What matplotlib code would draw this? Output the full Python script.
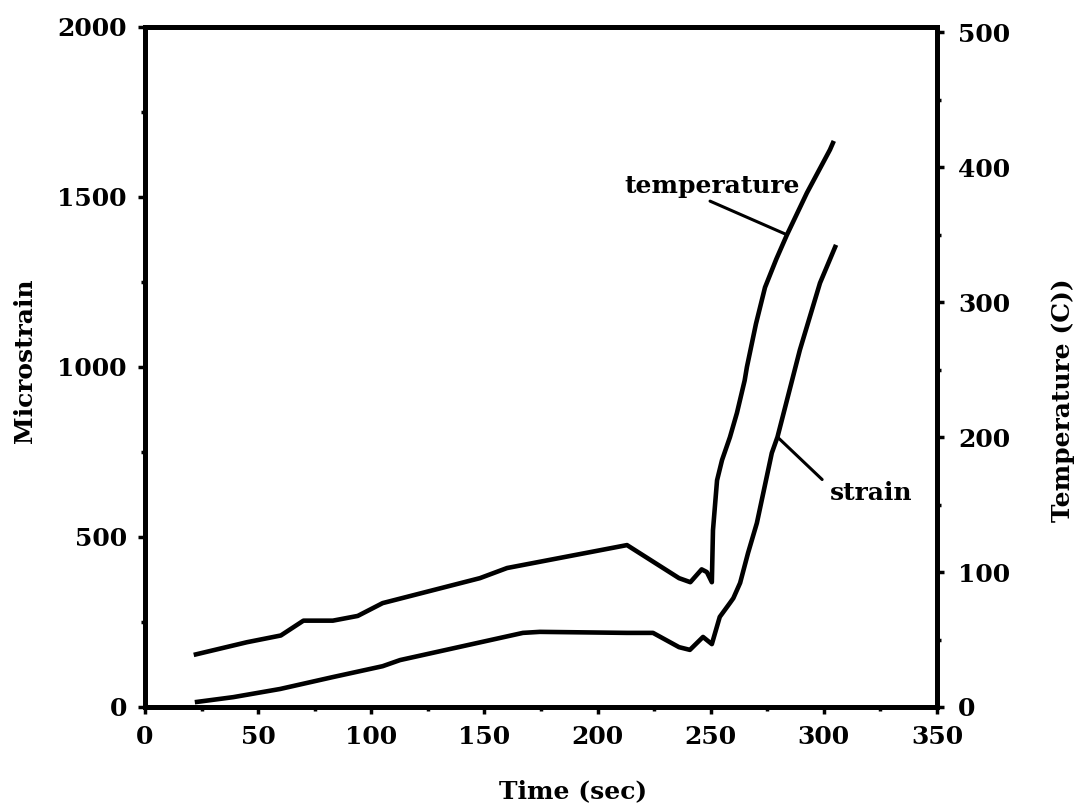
import matplotlib
matplotlib.use("Agg")
import matplotlib.pyplot as plt
from matplotlib.ticker import MultipleLocator

# strain curve (left axis, microstrain)
strain_time = [23, 39, 59.7, 83, 105, 112.7, 167, 174.5, 213, 224.5, 236, 240.8,
               246.6, 250.5, 254, 258.5, 260, 263, 266.5, 270.4, 277, 279.5,
               286, 289.4, 298.3, 305]
strain = [15, 29, 53, 88, 120, 138, 218, 221, 218, 218, 176, 168,
          206, 185, 265, 306, 320, 365, 453, 541, 747, 794,
          962, 1050, 1247, 1353]

# temperature curve (right axis, C)
temp_time = [22.5, 45, 60, 70, 83, 94, 105, 148, 160, 213, 236, 241, 246, 248.3,
             250.5, 251, 252.8, 255, 258.5, 261.6, 265, 266, 270, 274, 279,
             283.7, 292.5, 302.7, 304]
temp = [39, 48, 53, 64, 64, 67.5, 77, 95.5, 103, 120, 95.5, 92.5, 102, 100,
        92.5, 131, 168, 183, 200, 218, 242, 252, 284, 311, 332,
        350, 381, 413, 418]

plt.rcParams['font.family'] = ['DejaVu Serif']
plt.rcParams['font.weight'] = 'bold'
plt.rcParams['axes.labelweight'] = 'bold'

fig = plt.figure(figsize=(10.76, 8.08), dpi=100)
ax = fig.add_axes([0.1348, 0.125, 0.736, 0.8416])
ax2 = ax.twinx()

ax.plot(strain_time, strain, color='black', lw=3.3, solid_joinstyle='round')
ax2.plot(temp_time, temp, color='black', lw=3.3, solid_joinstyle='round')

ax.set_xlim(0, 350)
ax.set_ylim(0, 2000)
ax2.set_ylim(0, 504)

ax.xaxis.set_major_locator(MultipleLocator(50))
ax.xaxis.set_minor_locator(MultipleLocator(25))
ax.yaxis.set_major_locator(MultipleLocator(500))
ax.yaxis.set_minor_locator(MultipleLocator(250))
ax2.yaxis.set_major_locator(MultipleLocator(100))
ax2.yaxis.set_minor_locator(MultipleLocator(50))

for a in (ax, ax2):
    for s in a.spines.values():
        s.set_linewidth(3.5)
    a.tick_params(which='major', direction='out', length=5, width=2.5, labelsize=18)
    a.tick_params(which='minor', direction='out', length=3, width=2.5)
ax.tick_params(axis='x', pad=8)
ax.tick_params(axis='y', pad=8)
ax2.tick_params(axis='y', pad=10)

ax.set_xlabel("Time (sec)", fontsize=18, ha='center', va='center')
ax.xaxis.set_label_coords(0.54, -0.1235)
ax.set_ylabel("Microstrain", fontsize=18, ha='center', va='center')
ax.yaxis.set_label_coords(-0.1515, 0.51)
ax2.set_ylabel("Temperature (C))", fontsize=18, ha='center', va='center')
ax2.yaxis.set_label_coords(1.159, 0.451)

ax2.annotate("temperature", xy=(283.7, 350), xytext=(212, 380.7),
             textcoords='data', fontsize=18, ha='left', va='baseline',
             arrowprops=dict(arrowstyle='-', lw=2.2, color='black',
                             relpos=(0.45, 0.0), shrinkA=0, shrinkB=0))
ax.annotate("strain", xy=(279.5, 794), xytext=(302.7, 609),
            textcoords='data', fontsize=18, ha='left', va='baseline',
            arrowprops=dict(arrowstyle='-', lw=2.2, color='black',
                            relpos=(0.0, 0.75), shrinkA=5, shrinkB=0))

fig.savefig("out.png", dpi=100)
